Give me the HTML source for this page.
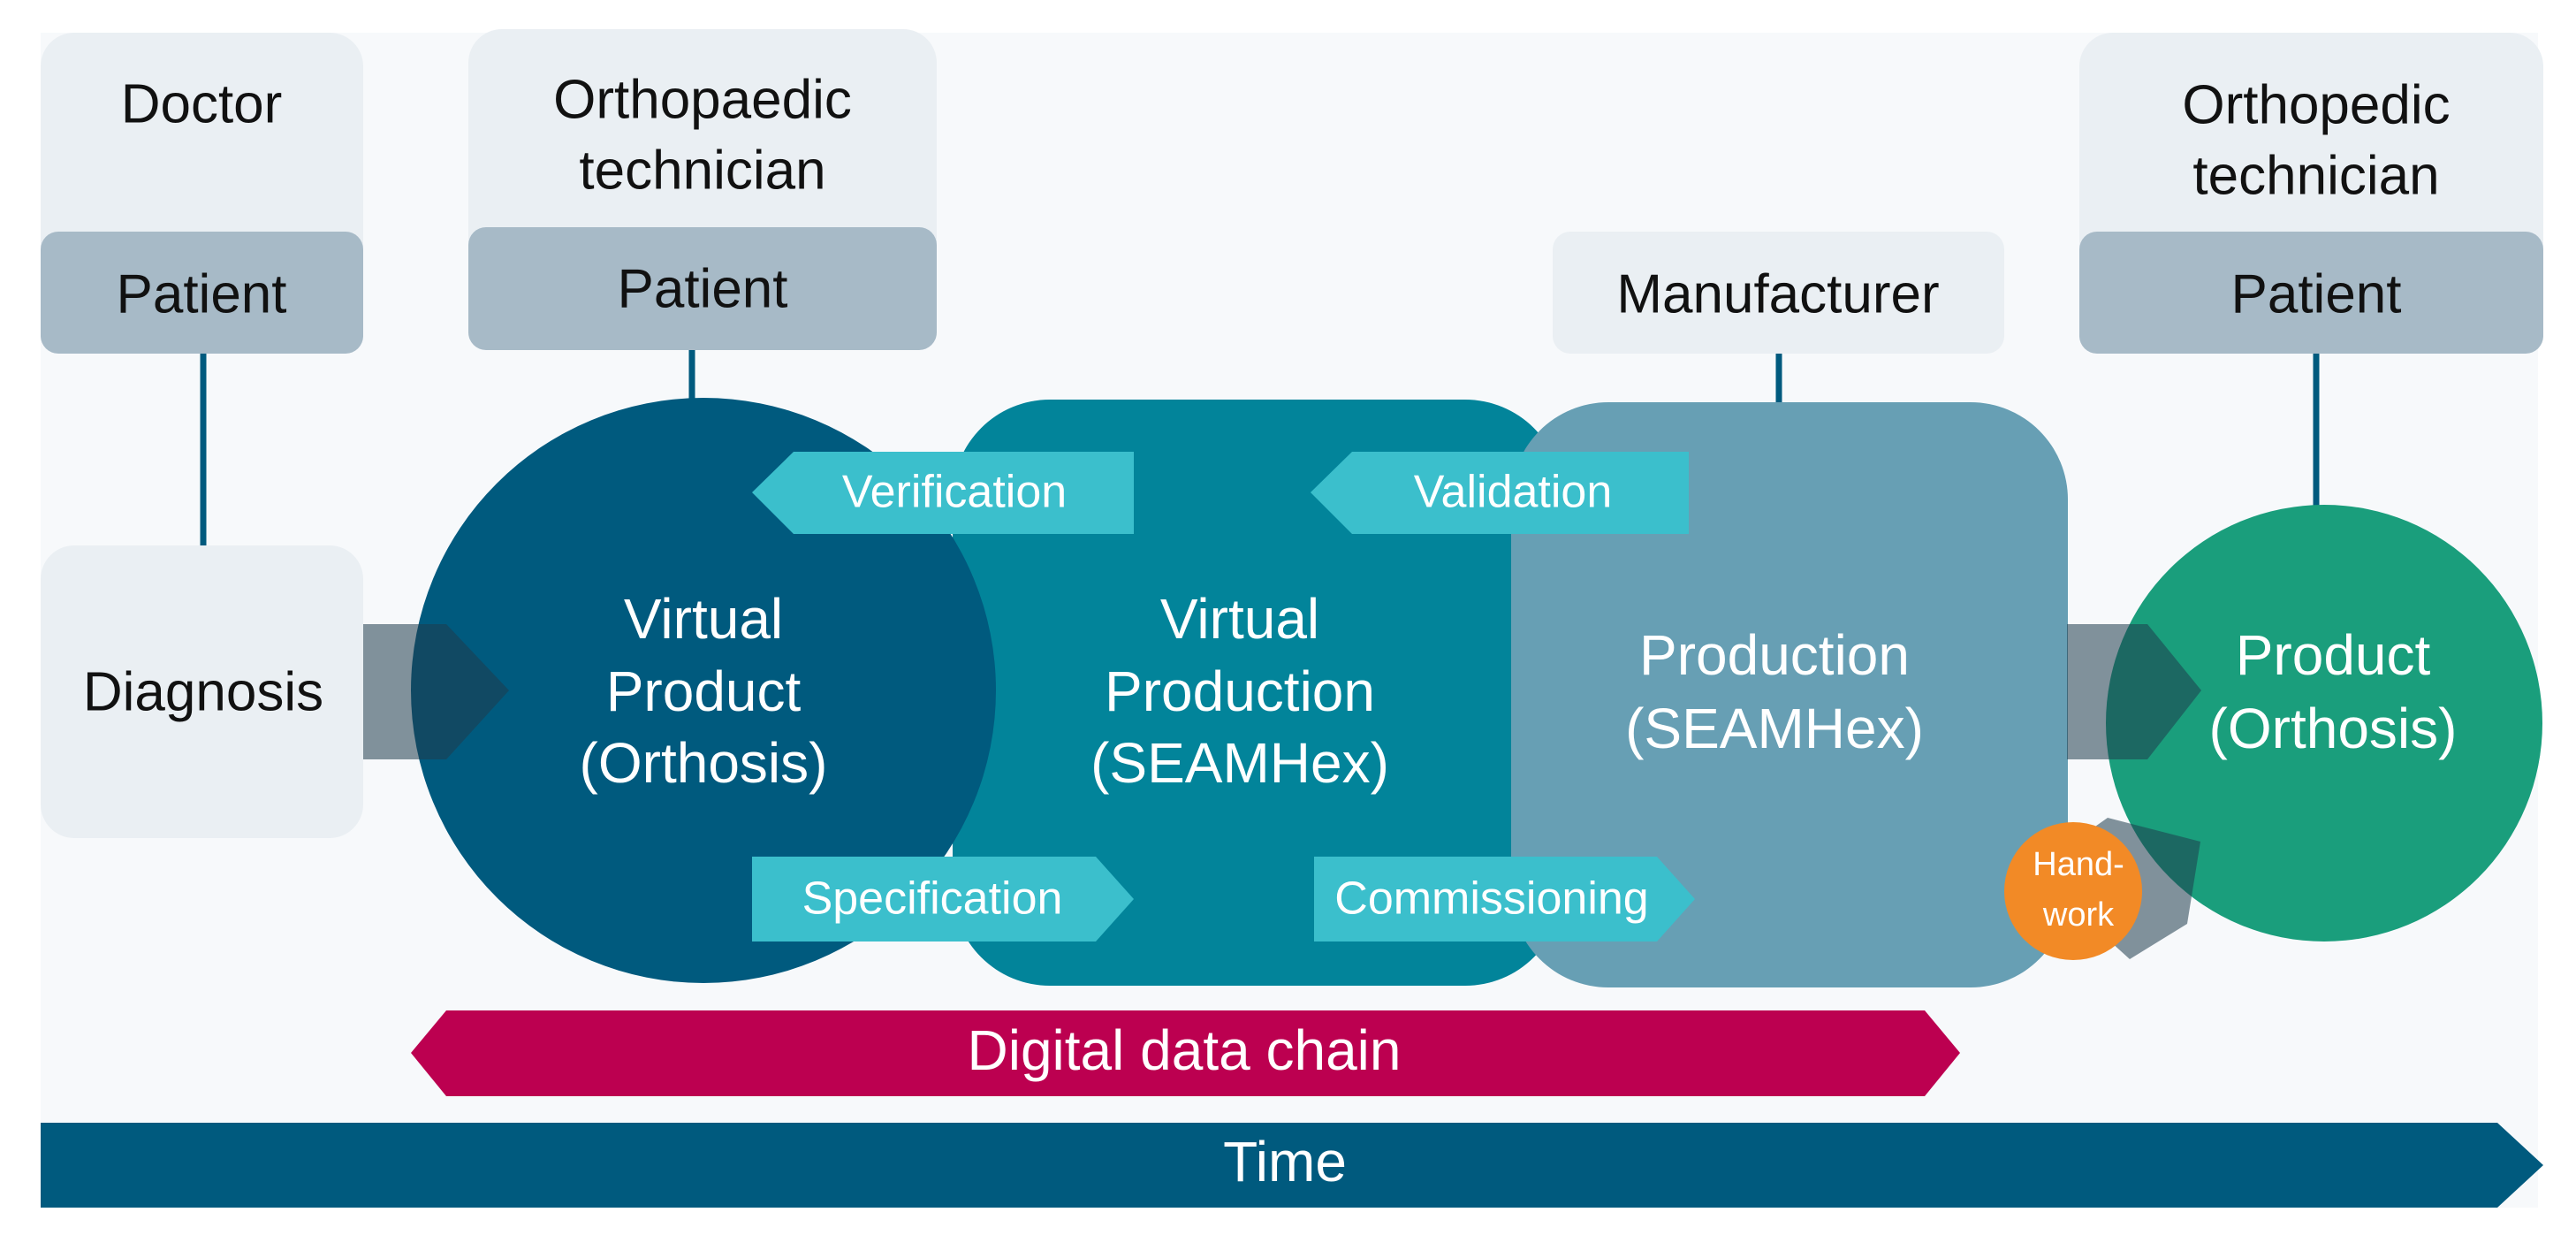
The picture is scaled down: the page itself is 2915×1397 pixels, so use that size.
<!DOCTYPE html>
<html><head><meta charset="utf-8"><style>
html,body{margin:0;padding:0;background:#fff}
svg{display:block}
text{font-family:"Liberation Sans",sans-serif;text-anchor:middle;dominant-baseline:middle}
</style></head><body>
<svg width="2915" height="1397" viewBox="0 0 2915 1397" xmlns="http://www.w3.org/2000/svg">
<rect x="46" y="37" width="2826" height="1329" fill="#f7f9fb"/>
<g stroke="#005a7e" stroke-width="7">
<line x1="230" y1="400" x2="230" y2="617"/>
<line x1="783" y1="396" x2="783" y2="460"/>
<line x1="2013" y1="400" x2="2013" y2="460"/>
<line x1="2621" y1="400" x2="2621" y2="575"/>
</g>
<rect x="46" y="37" width="365" height="363" rx="38" fill="#eaeff3"/>
<rect x="46" y="262" width="365" height="138" rx="20" fill="#a7bac7"/>
<rect x="530" y="33" width="530" height="363" rx="38" fill="#eaeff3"/>
<rect x="530" y="257" width="530" height="139" rx="20" fill="#a7bac7"/>
<rect x="1757" y="262" width="511" height="138" rx="20" fill="#eaeff3"/>
<rect x="2353" y="37" width="525" height="363" rx="38" fill="#eaeff3"/>
<rect x="2353" y="262" width="525" height="138" rx="20" fill="#a7bac7"/>
<rect x="46" y="617" width="365" height="331" rx="38" fill="#eaeff3"/>
<rect x="1078" y="452" width="690" height="663" rx="110" fill="#02849a"/>
<rect x="1710" y="455" width="630" height="662" rx="110" fill="#679fb4"/>
<rect x="1738" y="560" width="60" height="450" fill="#679fb4"/>
<circle cx="796" cy="781" r="331" fill="#005a7e"/>
<circle cx="2630" cy="818" r="247" fill="#1a9e7c"/>
<g fill="#1f3c4c" fill-opacity="0.55">
<polygon points="411,706 505,706 576,781 505,859 411,859"/>
<polygon points="2339,706 2430,706 2491,781 2430,859 2339,859"/>
<polygon points="2300,985 2385,925 2490,952 2475,1045 2410,1085"/>
</g>
<circle cx="2346" cy="1008" r="78" fill="#f28a26"/>
<g fill="#3bbfcc">
<polygon points="851,557 898,511 1283,511 1283,604 898,604"/>
<polygon points="1483,557 1530,511 1911,511 1911,604 1530,604"/>
<polygon points="851,969 1240,969 1283,1017 1240,1065 851,1065"/>
<polygon points="1487,969 1875,969 1918,1017 1875,1065 1487,1065"/>
</g>
<polygon points="465,1191 505,1143 2178,1143 2218,1191 2178,1240 505,1240" fill="#bc0050"/>
<polygon points="46,1270 2826,1270 2878,1318 2826,1366 46,1366" fill="#005a7e"/>
<g font-size="62" fill="#111">
<text x="228" y="122">Doctor</text>
<text x="228" y="337">Patient</text>
<text x="795" y="117">Orthopaedic</text>
<text x="795" y="197">technician</text>
<text x="795" y="331">Patient</text>
<text x="2012" y="337">Manufacturer</text>
<text x="2621" y="123">Orthopedic</text>
<text x="2621" y="203">technician</text>
<text x="2621" y="337">Patient</text>
<text x="230" y="787">Diagnosis</text>
</g>
<g font-size="64" fill="#fff">
<text x="796" y="705">Virtual</text>
<text x="796" y="787">Product</text>
<text x="796" y="868">(Orthosis)</text>
<text x="1403" y="705">Virtual</text>
<text x="1403" y="787">Production</text>
<text x="1403" y="868">(SEAMHex)</text>
<text x="2008" y="746">Production</text>
<text x="2008" y="829">(SEAMHex)</text>
<text x="2640" y="746">Product</text>
<text x="2640" y="829">(Orthosis)</text>
<text x="1340" y="1193">Digital data chain</text>
<text x="1454" y="1319">Time</text>
</g>
<g font-size="52" fill="#fff">
<text x="1080" y="560">Verification</text>
<text x="1712" y="560">Validation</text>
<text x="1055" y="1020">Specification</text>
<text x="1688" y="1020">Commissioning</text>
</g>
<g font-size="38" fill="#fff">
<text x="2352" y="980">Hand-</text>
<text x="2352" y="1037">work</text>
</g>
</svg>
</body></html>
